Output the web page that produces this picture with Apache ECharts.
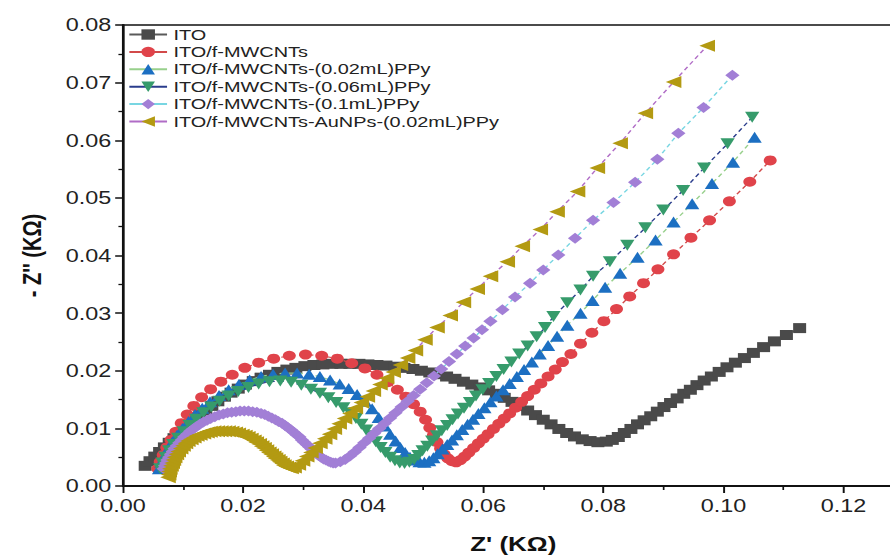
<!DOCTYPE html>
<html>
<head>
<meta charset="utf-8">
<script src="https://cdn.jsdelivr.net/npm/echarts@6/dist/echarts.min.js"></script>
<style>
html,body{margin:0;padding:0;background:#fff;overflow:hidden;width:890px;height:559px;}
#c{width:695px;height:559px;transform:scaleX(1.3);transform-origin:0 0;}
</style>
</head>
<body>
<div id="c"></div>
<script>
const seriesNames = ['ITO','ITO/f-MWCNTs','ITO/f-MWCNTs-(0.02mL)PPy','ITO/f-MWCNTs-(0.06mL)PPy','ITO/f-MWCNTs-(0.1mL)PPy','ITO/f-MWCNTs-AuNPs-(0.02mL)PPy'];
const xTicks = [0,0.02,0.04,0.06,0.08,0.10,0.12];
const yTicks = [0,0.01,0.02,0.03,0.04,0.05,0.06,0.07,0.08];

const itoData = [[0.0037,0.0035],[0.0045,0.0043],[0.0053,0.0051],[0.0061,0.0059],[0.0069,0.0067],[0.0077,0.0075],[0.0085,0.0083],[0.0093,0.0091],[0.0101,0.0099],[0.0110,0.0107],[0.0119,0.0115],[0.0128,0.0123],[0.0138,0.0131],[0.0148,0.0139],[0.0158,0.0147],[0.0169,0.0155],[0.0180,0.0162],[0.0192,0.0169],[0.0204,0.0176],[0.0217,0.0182],[0.0230,0.0188],[0.0244,0.0193],[0.0258,0.0198],[0.0273,0.0202],[0.0288,0.0205],[0.0303,0.0208],[0.0318,0.0210],[0.0333,0.0211],[0.0348,0.0212],[0.0363,0.0212],[0.0378,0.0212],[0.0393,0.0212],[0.0408,0.0211],[0.0423,0.0210],[0.0438,0.0209],[0.0453,0.0207],[0.0468,0.0205],[0.0483,0.0203],[0.0497,0.0200],[0.0511,0.0197],[0.0525,0.0194],[0.0539,0.0190],[0.0553,0.0186],[0.0567,0.0181],[0.0581,0.0176],[0.0595,0.0171],[0.0609,0.0166],[0.0622,0.0160],[0.0635,0.0153],[0.0648,0.0146],[0.0661,0.0139],[0.0674,0.0131],[0.0687,0.0123],[0.0700,0.0115],[0.0713,0.0107],[0.0726,0.0099],[0.0739,0.0092],[0.0752,0.0086],[0.0765,0.0081],[0.0778,0.0078],[0.0791,0.0076],[0.0805,0.0077],[0.0815,0.0080],[0.0825,0.0085],[0.0835,0.0092],[0.0846,0.0099],[0.0857,0.0107],[0.0868,0.0114],[0.0879,0.0121],[0.0890,0.0129],[0.0901,0.0137],[0.0912,0.0144],[0.0923,0.0152],[0.0934,0.0160],[0.0945,0.0167],[0.0956,0.0175],[0.0968,0.0183],[0.0980,0.0190],[0.0993,0.0198],[0.1006,0.0206],[0.1020,0.0214],[0.1035,0.0222],[0.1050,0.0231],[0.1067,0.0241],[0.1085,0.0251],[0.1105,0.0262],[0.1127,0.0274]];

const mwcntData = [[0.0058,0.0030],[0.0062,0.0042],[0.0067,0.0054],[0.0073,0.0067],[0.0080,0.0080],[0.0088,0.0094],[0.0097,0.0109],[0.0107,0.0124],[0.0118,0.0139],[0.0131,0.0154],[0.0146,0.0168],[0.0163,0.0181],[0.0182,0.0193],[0.0203,0.0205],[0.0226,0.0214],[0.0251,0.0221],[0.0277,0.0226],[0.0304,0.0228],[0.0331,0.0226],[0.0357,0.0221],[0.0381,0.0213],[0.0403,0.0204],[0.0423,0.0193],[0.0441,0.0180],[0.0457,0.0167],[0.0471,0.0155],[0.0484,0.0142],[0.0495,0.0129],[0.0504,0.0115],[0.0511,0.0101],[0.0517,0.0088],[0.0523,0.0076],[0.0529,0.0065],[0.0535,0.0055],[0.0541,0.0048],[0.0548,0.0043],[0.0555,0.0041],[0.0562,0.0045],[0.0569,0.0051],[0.0576,0.0058],[0.0584,0.0066],[0.0592,0.0074],[0.0600,0.0082],[0.0608,0.0090],[0.0617,0.0099],[0.0626,0.0108],[0.0635,0.0117],[0.0644,0.0126],[0.0654,0.0136],[0.0664,0.0146],[0.0674,0.0156],[0.0685,0.0167],[0.0696,0.0178],[0.0708,0.0190],[0.0720,0.0202],[0.0732,0.0215],[0.0746,0.0229],[0.0762,0.0247],[0.0781,0.0266],[0.0801,0.0286],[0.0822,0.0307],[0.0844,0.0329],[0.0867,0.0352],[0.0891,0.0376],[0.0917,0.0402],[0.0946,0.0431],[0.0977,0.0461],[0.1010,0.0494],[0.1044,0.0528],[0.1078,0.0565]];

const ppy002Data = [[0.0060,0.0030],[0.0064,0.0041],[0.0069,0.0052],[0.0075,0.0064],[0.0082,0.0076],[0.0090,0.0088],[0.0099,0.0100],[0.0109,0.0112],[0.0120,0.0124],[0.0132,0.0135],[0.0145,0.0146],[0.0160,0.0157],[0.0176,0.0167],[0.0193,0.0176],[0.0211,0.0184],[0.0230,0.0190],[0.0250,0.0194],[0.0270,0.0196],[0.0290,0.0196],[0.0310,0.0194],[0.0328,0.0190],[0.0345,0.0184],[0.0361,0.0177],[0.0376,0.0169],[0.0390,0.0159],[0.0403,0.0147],[0.0415,0.0134],[0.0426,0.0119],[0.0436,0.0104],[0.0445,0.0090],[0.0454,0.0078],[0.0462,0.0067],[0.0470,0.0058],[0.0478,0.0050],[0.0486,0.0045],[0.0494,0.0042],[0.0502,0.0041],[0.0510,0.0044],[0.0517,0.0049],[0.0524,0.0056],[0.0532,0.0064],[0.0540,0.0072],[0.0548,0.0080],[0.0556,0.0089],[0.0565,0.0098],[0.0574,0.0107],[0.0583,0.0116],[0.0592,0.0126],[0.0602,0.0136],[0.0612,0.0146],[0.0622,0.0156],[0.0633,0.0167],[0.0644,0.0178],[0.0656,0.0190],[0.0668,0.0202],[0.0681,0.0215],[0.0694,0.0229],[0.0708,0.0244],[0.0723,0.0260],[0.0740,0.0279],[0.0762,0.0300],[0.0782,0.0322],[0.0803,0.0345],[0.0828,0.0369],[0.0857,0.0397],[0.0887,0.0427],[0.0917,0.0458],[0.0948,0.0490],[0.0981,0.0525],[0.1016,0.0562],[0.1052,0.0605]];

const ppy006Data = [[0.0062,0.0030],[0.0066,0.0040],[0.0071,0.0050],[0.0077,0.0061],[0.0084,0.0072],[0.0092,0.0083],[0.0101,0.0094],[0.0111,0.0105],[0.0122,0.0116],[0.0134,0.0127],[0.0147,0.0137],[0.0161,0.0147],[0.0176,0.0156],[0.0192,0.0164],[0.0209,0.0171],[0.0226,0.0177],[0.0244,0.0181],[0.0262,0.0182],[0.0280,0.0180],[0.0297,0.0175],[0.0313,0.0168],[0.0328,0.0161],[0.0342,0.0153],[0.0355,0.0145],[0.0367,0.0136],[0.0378,0.0127],[0.0388,0.0117],[0.0397,0.0107],[0.0405,0.0097],[0.0413,0.0087],[0.0421,0.0077],[0.0429,0.0067],[0.0437,0.0058],[0.0445,0.0050],[0.0453,0.0044],[0.0461,0.0040],[0.0469,0.0039],[0.0477,0.0041],[0.0485,0.0046],[0.0492,0.0053],[0.0499,0.0061],[0.0507,0.0069],[0.0515,0.0078],[0.0523,0.0087],[0.0531,0.0096],[0.0540,0.0105],[0.0549,0.0115],[0.0558,0.0125],[0.0568,0.0135],[0.0578,0.0145],[0.0588,0.0156],[0.0599,0.0167],[0.0610,0.0178],[0.0622,0.0190],[0.0634,0.0202],[0.0647,0.0215],[0.0660,0.0229],[0.0674,0.0243],[0.0689,0.0259],[0.0703,0.0275],[0.0717,0.0294],[0.0740,0.0318],[0.0762,0.0340],[0.0783,0.0364],[0.0811,0.0389],[0.0840,0.0418],[0.0870,0.0448],[0.0900,0.0479],[0.0933,0.0513],[0.0968,0.0552],[0.1007,0.0594],[0.1048,0.0640]];

const ppy01Data = [[0.0068,0.0030],[0.0070,0.0035],[0.0072,0.0040],[0.0074,0.0045],[0.0077,0.0050],[0.0080,0.0055],[0.0083,0.0060],[0.0086,0.0065],[0.0090,0.0070],[0.0094,0.0075],[0.0098,0.0080],[0.0102,0.0085],[0.0107,0.0090],[0.0112,0.0095],[0.0117,0.0099],[0.0122,0.0103],[0.0128,0.0107],[0.0134,0.0111],[0.0140,0.0114],[0.0146,0.0117],[0.0153,0.0120],[0.0160,0.0123],[0.0167,0.0125],[0.0174,0.0127],[0.0181,0.0128],[0.0188,0.0129],[0.0195,0.0130],[0.0202,0.0130],[0.0209,0.0130],[0.0216,0.0129],[0.0223,0.0128],[0.0230,0.0126],[0.0236,0.0124],[0.0242,0.0121],[0.0248,0.0118],[0.0254,0.0115],[0.0259,0.0112],[0.0265,0.0109],[0.0270,0.0105],[0.0275,0.0101],[0.0280,0.0097],[0.0285,0.0093],[0.0289,0.0089],[0.0294,0.0085],[0.0298,0.0080],[0.0302,0.0076],[0.0306,0.0072],[0.0310,0.0068],[0.0314,0.0064],[0.0318,0.0060],[0.0322,0.0057],[0.0326,0.0053],[0.0330,0.0050],[0.0334,0.0047],[0.0338,0.0045],[0.0342,0.0043],[0.0346,0.0041],[0.0350,0.0040],[0.0354,0.0040],[0.0362,0.0042],[0.0370,0.0046],[0.0378,0.0052],[0.0386,0.0059],[0.0394,0.0067],[0.0402,0.0075],[0.0410,0.0083],[0.0418,0.0091],[0.0427,0.0100],[0.0436,0.0109],[0.0445,0.0118],[0.0454,0.0127],[0.0464,0.0137],[0.0474,0.0147],[0.0484,0.0157],[0.0495,0.0168],[0.0506,0.0179],[0.0518,0.0191],[0.0530,0.0203],[0.0543,0.0216],[0.0556,0.0229],[0.0570,0.0243],[0.0584,0.0257],[0.0598,0.0271],[0.0612,0.0286],[0.0632,0.0306],[0.0653,0.0328],[0.0678,0.0352],[0.0700,0.0375],[0.0725,0.0401],[0.0753,0.0430],[0.0783,0.0461],[0.0817,0.0492],[0.0853,0.0527],[0.0890,0.0567],[0.0925,0.0612],[0.0967,0.0657],[0.1015,0.0713]];

const aunpData = [[0.0075,0.0015],[0.0076,0.0020],[0.0077,0.0025],[0.0078,0.0030],[0.0080,0.0035],[0.0082,0.0040],[0.0084,0.0045],[0.0086,0.0050],[0.0089,0.0055],[0.0092,0.0060],[0.0096,0.0065],[0.0100,0.0070],[0.0104,0.0074],[0.0108,0.0078],[0.0113,0.0081],[0.0118,0.0084],[0.0123,0.0087],[0.0128,0.0089],[0.0134,0.0091],[0.0140,0.0093],[0.0145,0.0094],[0.0151,0.0095],[0.0157,0.0095],[0.0163,0.0095],[0.0169,0.0095],[0.0175,0.0095],[0.0181,0.0094],[0.0187,0.0093],[0.0192,0.0091],[0.0198,0.0089],[0.0203,0.0087],[0.0208,0.0085],[0.0213,0.0082],[0.0218,0.0079],[0.0222,0.0076],[0.0227,0.0073],[0.0231,0.0069],[0.0235,0.0066],[0.0239,0.0062],[0.0243,0.0058],[0.0247,0.0055],[0.0251,0.0051],[0.0254,0.0048],[0.0258,0.0045],[0.0261,0.0042],[0.0265,0.0039],[0.0268,0.0036],[0.0272,0.0034],[0.0276,0.0032],[0.0280,0.0031],[0.0285,0.0032],[0.0292,0.0037],[0.0299,0.0044],[0.0306,0.0051],[0.0313,0.0058],[0.0320,0.0066],[0.0328,0.0074],[0.0336,0.0082],[0.0344,0.0090],[0.0352,0.0099],[0.0360,0.0108],[0.0369,0.0117],[0.0378,0.0126],[0.0387,0.0135],[0.0397,0.0145],[0.0407,0.0155],[0.0417,0.0165],[0.0428,0.0176],[0.0439,0.0187],[0.0450,0.0198],[0.0462,0.0210],[0.0474,0.0222],[0.0487,0.0235],[0.0503,0.0254],[0.0523,0.0275],[0.0545,0.0296],[0.0567,0.0319],[0.0590,0.0342],[0.0612,0.0364],[0.0640,0.0389],[0.0665,0.0416],[0.0695,0.0445],[0.0723,0.0476],[0.0757,0.0511],[0.0790,0.0552],[0.0828,0.0595],[0.0870,0.0647],[0.0917,0.0701],[0.0973,0.0764]];

const seriesData = [itoData, mwcntData, ppy002Data, ppy006Data, ppy01Data, aunpData];
const markerColors = ['#4a4a4a','#e0434a','#1c6fc2','#369b6b','#a27fd6','#b39a12'];
const lineColors = ['#5a5a5a','#d24a4a','#98d08c','#2a3c8c','#78d6e2','#b06cc6'];
const symbols = ['rect','circle','triangle','triangle','diamond','triangle'];
const symbolRotates = [0,0,0,180,0,90];
const symbolSizes = [10,10,11,11,11,12];

const FONT = 'Liberation Sans, Arial, Helvetica, sans-serif';
const chart = echarts.init(document.getElementById('c'), null, {renderer:'svg'});

const series = seriesNames.map((name,i)=>({
  name: name,
  type: 'line',
  data: seriesData[i],
  symbol: symbols[i],
  symbolRotate: symbolRotates[i],
  symbolSize: symbolSizes[i],
  showAllSymbol: true,
  itemStyle: {color: markerColors[i], opacity: 1},
  lineStyle: {color: lineColors[i], width: 1.2, type: [4,3]},
  emphasis: {disabled: true},
  animation: false,
  z: 2 + i
}));

chart.setOption({
  animation: false,
  backgroundColor: '#fff',
  grid: {left: 94.6, right: 0, top: 25, bottom: 72, show: true, borderColor: '#111', borderWidth: 1.6, containLabel: false},
  legend: {
    orient: 'vertical', left: 98.5, top: 27, padding: 0,
    itemWidth: 29, itemHeight: 13, itemGap: 2.4,
    textStyle: {fontFamily: FONT, fontSize: 15.3, color: '#222'},
    selectedMode: false,
    data: seriesNames.map((n,i)=>({name:n, itemStyle:{color: markerColors[i]}, lineStyle:{color: lineColors[i], width: 2, type: 'solid'}}))
  },
  xAxis: {
    type: 'value', min: xTicks[0], max: 0.13, interval: 0.02,
    name: "Z' (KΩ)", nameLocation: 'middle', nameGap: 48,
    nameTextStyle: {fontFamily: FONT, fontSize: 20, fontWeight: 'bold', color: '#111'},
    axisLine: {show: true, lineStyle: {color: '#111', width: 1.8}},
    axisTick: {show: true, inside: false, length: 7, lineStyle: {color: '#111', width: 1.5}},
    minorTick: {show: true, splitNumber: 2, length: 4, lineStyle: {color: '#111', width: 1.3}},
    splitLine: {show: false},
    axisLabel: {fontFamily: FONT, fontSize: 18, color: '#222', margin: 11, showMaxLabel: false,
      formatter: v => xTicks.some(t=>Math.abs(t-v)<1e-9) ? v.toFixed(2) : ''}
  },
  yAxis: {
    type: 'value', min: yTicks[0], max: yTicks[yTicks.length-1], interval: 0.01,
    name: "- Z'' (KΩ)", nameLocation: 'middle', nameGap: 60,
    nameTextStyle: {fontFamily: FONT, fontSize: 20, fontWeight: 'bold', color: '#111'},
    axisLine: {show: true, lineStyle: {color: '#111', width: 1.8}},
    axisTick: {show: true, inside: false, length: 6, lineStyle: {color: '#111', width: 1.5}},
    minorTick: {show: true, splitNumber: 2, length: 3.5, lineStyle: {color: '#111', width: 1.3}},
    splitLine: {show: false},
    axisLabel: {fontFamily: FONT, fontSize: 18, color: '#222', margin: 9, formatter: v => v.toFixed(2)}
  },
  series: series
});
</script>
</body>
</html>
